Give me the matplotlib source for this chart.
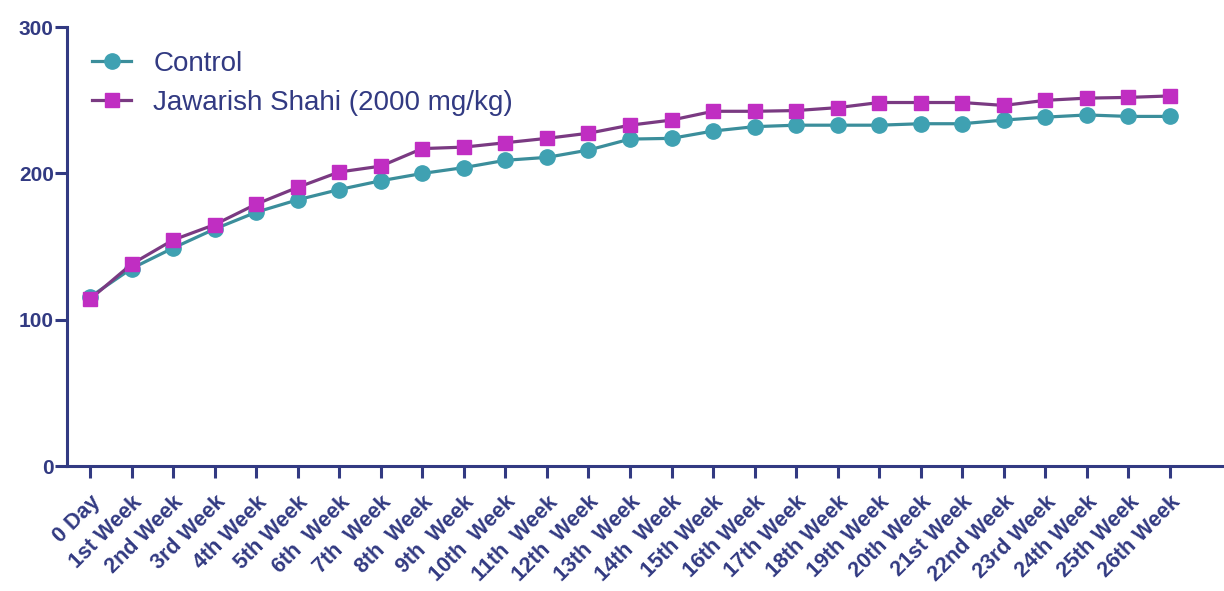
import numpy as np
import matplotlib
matplotlib.use("Agg")
import matplotlib.pyplot as plt

plt.rcParams['font.family'] = ['Liberation Sans', 'DejaVu Sans']

labels = ["0 Day", "1st Week", "2nd Week", "3rd Week", "4th Week", "5th Week",
          "6th  Week", "7th  Week", "8th  Week", "9th  Week", "10th  Week",
          "11th  Week", "12th  Week", "13th  Week", "14th  Week", "15th Week",
          "16th Week", "17th Week", "18th Week", "19th Week", "20th Week",
          "21st Week", "22nd Week", "23rd Week", "24th Week", "25th Week",
          "26th Week"]

control = [115.5, 135, 149, 162, 173.5, 182, 189, 195, 200, 204, 209, 211, 216,
           223.5, 224, 229, 232, 233, 233, 233, 234, 234, 236.5, 238.5, 240, 239, 239]
jawarish = [114, 138, 154.5, 165, 179, 190.5, 201, 205, 217, 218, 221, 224, 227.5,
            233, 236.5, 242.5, 242.5, 243, 245, 248.5, 248.5, 248.5, 246.5, 250,
            251.5, 252, 253]

navy = "#323a82"
x = np.arange(len(labels))

fig = plt.figure(figsize=(12.24, 5.91), dpi=100)
ax = fig.add_axes([0.0547, 0.2115, 0.9453, 0.7425])

ax.plot(x, control, color="#3b8e9b", lw=2.3, marker="o", ms=11,
        mfc="#3fa1b2", mec="#3fa1b2", label="Control", zorder=3)
ax.plot(x, jawarish, color="#7a3a82", lw=2.3, marker="s", ms=10.5,
        mfc="#c02ec2", mec="#c02ec2", label="Jawarish Shahi (2000 mg/kg)", zorder=4)

ax.set_xlim(-0.554, 27.3)
ax.set_ylim(0, 300)
ax.set_yticks([0, 100, 200, 300])
ax.set_xticks(x)
ax.set_xticklabels(labels, rotation=45, ha="right", rotation_mode="anchor",
                   fontsize=15.5, fontweight="bold", color=navy)
for t in ax.get_yticklabels():
    t.set_fontsize(15)
    t.set_fontweight("bold")
    t.set_color(navy)

for s in ["top", "right"]:
    ax.spines[s].set_visible(False)
for s in ["left", "bottom"]:
    ax.spines[s].set_color(navy)
    ax.spines[s].set_linewidth(2.2)
ax.tick_params(axis="both", colors=navy, length=8.5, width=2.2, direction="out")
ax.tick_params(axis="x", pad=10)
ax.tick_params(axis="y", pad=1)

leg = ax.legend(loc="upper left", bbox_to_anchor=(0.005, 0.99), frameon=False,
                fontsize=20, handlelength=1.4, handletextpad=0.8, labelspacing=0.45,
                borderaxespad=0.3)
for t in leg.get_texts():
    t.set_color(navy)

fig.savefig("out.png", dpi=100)
